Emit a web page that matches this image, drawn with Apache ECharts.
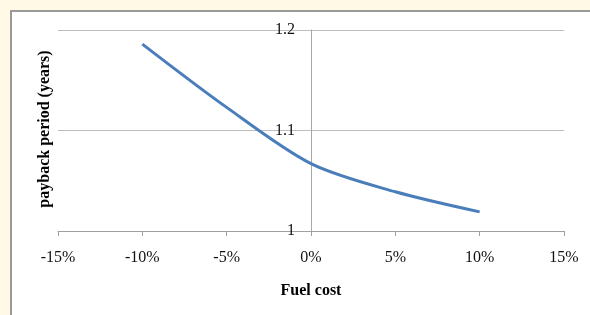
<!DOCTYPE html>
<html>
<head>
<meta charset="utf-8">
<script src="https://cdn.jsdelivr.net/npm/echarts@6/dist/echarts.min.js"></script>
<style>
html,body{margin:0;padding:0;background:#FFF9E6;}
#c{width:590px;height:315px;}
</style>
</head>
<body>
<div id="c"></div>
<script>
// Data
var fuelCost = [-10, -5, 0, 5, 10];            // % change in fuel cost
var payback = [1.186, 1.123, 1.067, 1.039, 1.019]; // payback period (years)
var xTicks = [-15, -10, -5, 0, 5, 10, 15];
var yTicks = [1, 1.1, 1.2];

var serif = '"Liberation Serif","Times New Roman",serif';
var gridLeft = 58, gridRight = 26, W = 590;
var chart = echarts.init(document.getElementById('c'), null, {renderer: 'canvas'});
chart.setOption({
  backgroundColor: '#FFF9E6',
  animation: false,
  graphic: [
    {type: 'rect', z: -10, shape: {x: 11, y: 11, width: 600, height: 320},
     style: {fill: '#ffffff', stroke: '#9a9a9a', lineWidth: 2}},
    {type: 'text', z: 10, x: 45, y: 129, rotation: Math.PI / 2,
     style: {text: 'payback period (years)', font: 'bold 16px ' + serif, fill: '#000',
             textAlign: 'center', textVerticalAlign: 'middle'}}
  ],
  grid: {left: gridLeft, right: gridRight, top: 30, bottom: 84},
  xAxis: {
    type: 'value', min: xTicks[0], max: xTicks[xTicks.length - 1], interval: 5,
    name: 'Fuel cost', nameLocation: 'middle', nameGap: 52,
    nameTextStyle: {fontFamily: serif, fontWeight: 'bold', fontSize: 16, color: '#000'},
    axisLine: {show: true, onZero: false, lineStyle: {color: '#a0a0a0', width: 1}},
    axisTick: {show: true, length: 5, lineStyle: {color: '#a0a0a0'}},
    splitLine: {show: false},
    axisLabel: {formatter: '{value}%', fontFamily: serif, fontSize: 16, color: '#111', margin: 19}
  },
  yAxis: {
    type: 'value', min: yTicks[0], max: yTicks[yTicks.length - 1], interval: 0.1,
    position: 'left',
    offset: -(W - gridLeft - gridRight) / 2,
    axisLine: {show: true, onZero: false, lineStyle: {color: '#a8a8a8', width: 1}},
    axisTick: {show: false},
    splitLine: {show: true, lineStyle: {color: '#bdbdbd', width: 1}},
    axisLabel: {fontFamily: serif, fontSize: 16, color: '#111', margin: 16,
                formatter: function (v) { return String(Math.round(v * 10) / 10); }}
  },
  series: [{
    type: 'line',
    data: fuelCost.map(function (x, i) { return [x, payback[i]]; }),
    smooth: 0.3,
    showSymbol: false,
    lineStyle: {color: '#4A7EBB', width: 3}
  }]
});
</script>
</body>
</html>
